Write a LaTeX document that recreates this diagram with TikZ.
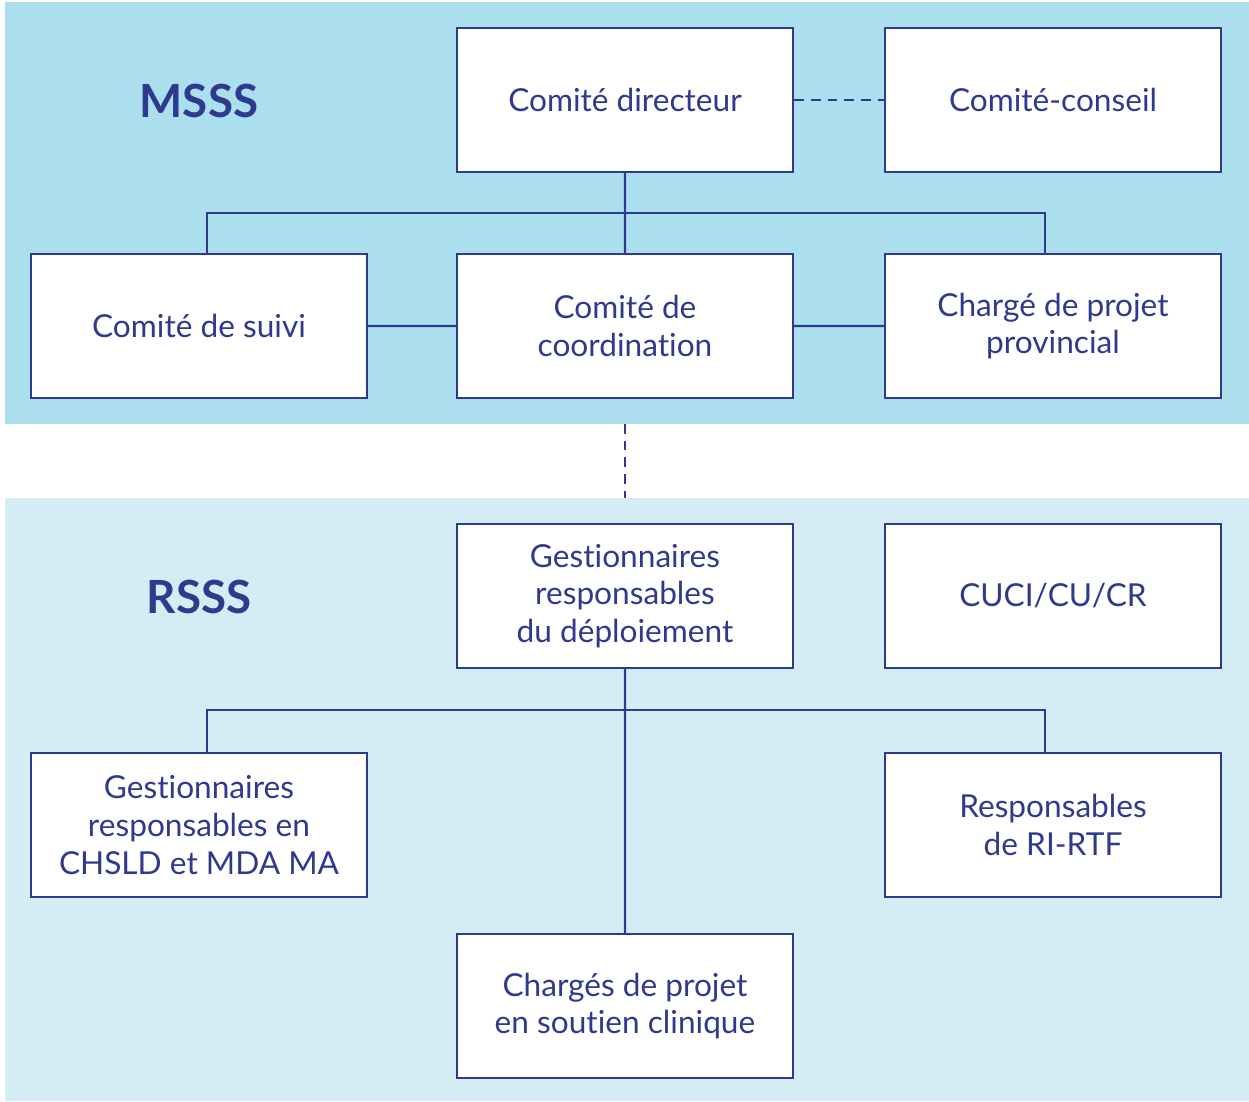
\documentclass[tikz,border=0pt]{standalone}
\usepackage{fontspec}
\usepackage{tikz}
\setmainfont{Lato}[Ligatures={NoCommon}]
\definecolor{navy}{HTML}{2E3A8E}
\definecolor{msssbg}{HTML}{ABDFED}
\definecolor{rsssbg}{HTML}{D4EDF4}

\begin{document}
\begin{tikzpicture}[scale=0.2]
\tikzstyle{every node}+=[inner sep=0pt]
\tikzstyle{box}=[draw=navy, fill=white, line width=1.4pt, minimum width=6.72cm, minimum height=2.88cm, align=center, text=navy, font=\fontsize{18}{21.5}\selectfont]
\tikzstyle{level}=[text=navy, font=\fontsize{26}{30}\selectfont\bfseries]
\tikzstyle{link}=[navy, line width=1.4pt]
\tikzstyle{loose}=[navy, line width=1.5pt, dash pattern=on 5.5pt off 4pt]
\useasboundingbox (0,0) rectangle (124.9,-110.1);
\fill [msssbg] (0.5,-0.2) rectangle (124.9,-42.4);
\fill [rsssbg] (0.5,-49.8) rectangle (124.9,-110.1);
% MSSS
\draw (19.9,-10.1) node [level] (msss) {MSSS};
\draw (62.5,-10) node [box] (dir) {Comité directeur};
\draw (105.3,-10) node [box] (conseil) {Comité-conseil};
\draw (19.9,-32.6) node [box] (suivi) {Comité de suivi};
\draw (62.5,-32.6) node [box] (coord) {Comité de\\coordination};
\draw (105.3,-32.6) node [box] (prov) {Chargé de projet\\provincial};
\draw [loose] (dir) -- (conseil);
\draw [link] (dir) -- (coord);
\draw [link] ([xshift=0.8cm]suivi.north) -- ++(0,4) -| ([xshift=-0.8cm]prov.north);
\draw [link] (suivi) -- (coord);
\draw [link] (coord) -- (prov);
% between the two levels
\coordinate (mgap) at (62.5,-42.4);
\coordinate (rgap) at (62.5,-49.8);
\draw [loose] (mgap) -- (rgap);
% RSSS
\draw (19.9,-59.7) node [level] (rsss) {RSSS};
\draw (62.5,-59.6) node [box] (gest) {Gestionnaires\\responsables\\du déploiement};
\draw (105.3,-59.6) node [box] (cuci) {CUCI/CU/CR};
\draw (19.9,-82.5) node [box] (chsld) {Gestionnaires\\responsables en\\CHSLD et MDA MA};
\draw (105.3,-82.5) node [box] (rirtf) {Responsables\\de RI-RTF};
\draw (62.5,-100.6) node [box] (clin) {Chargés de projet\\en soutien clinique};
\draw [link] (gest) -- (clin);
\draw [link] ([xshift=0.8cm]chsld.north) -- ++(0,4.2) -| ([xshift=-0.8cm]rirtf.north);
\end{tikzpicture}
\end{document}
